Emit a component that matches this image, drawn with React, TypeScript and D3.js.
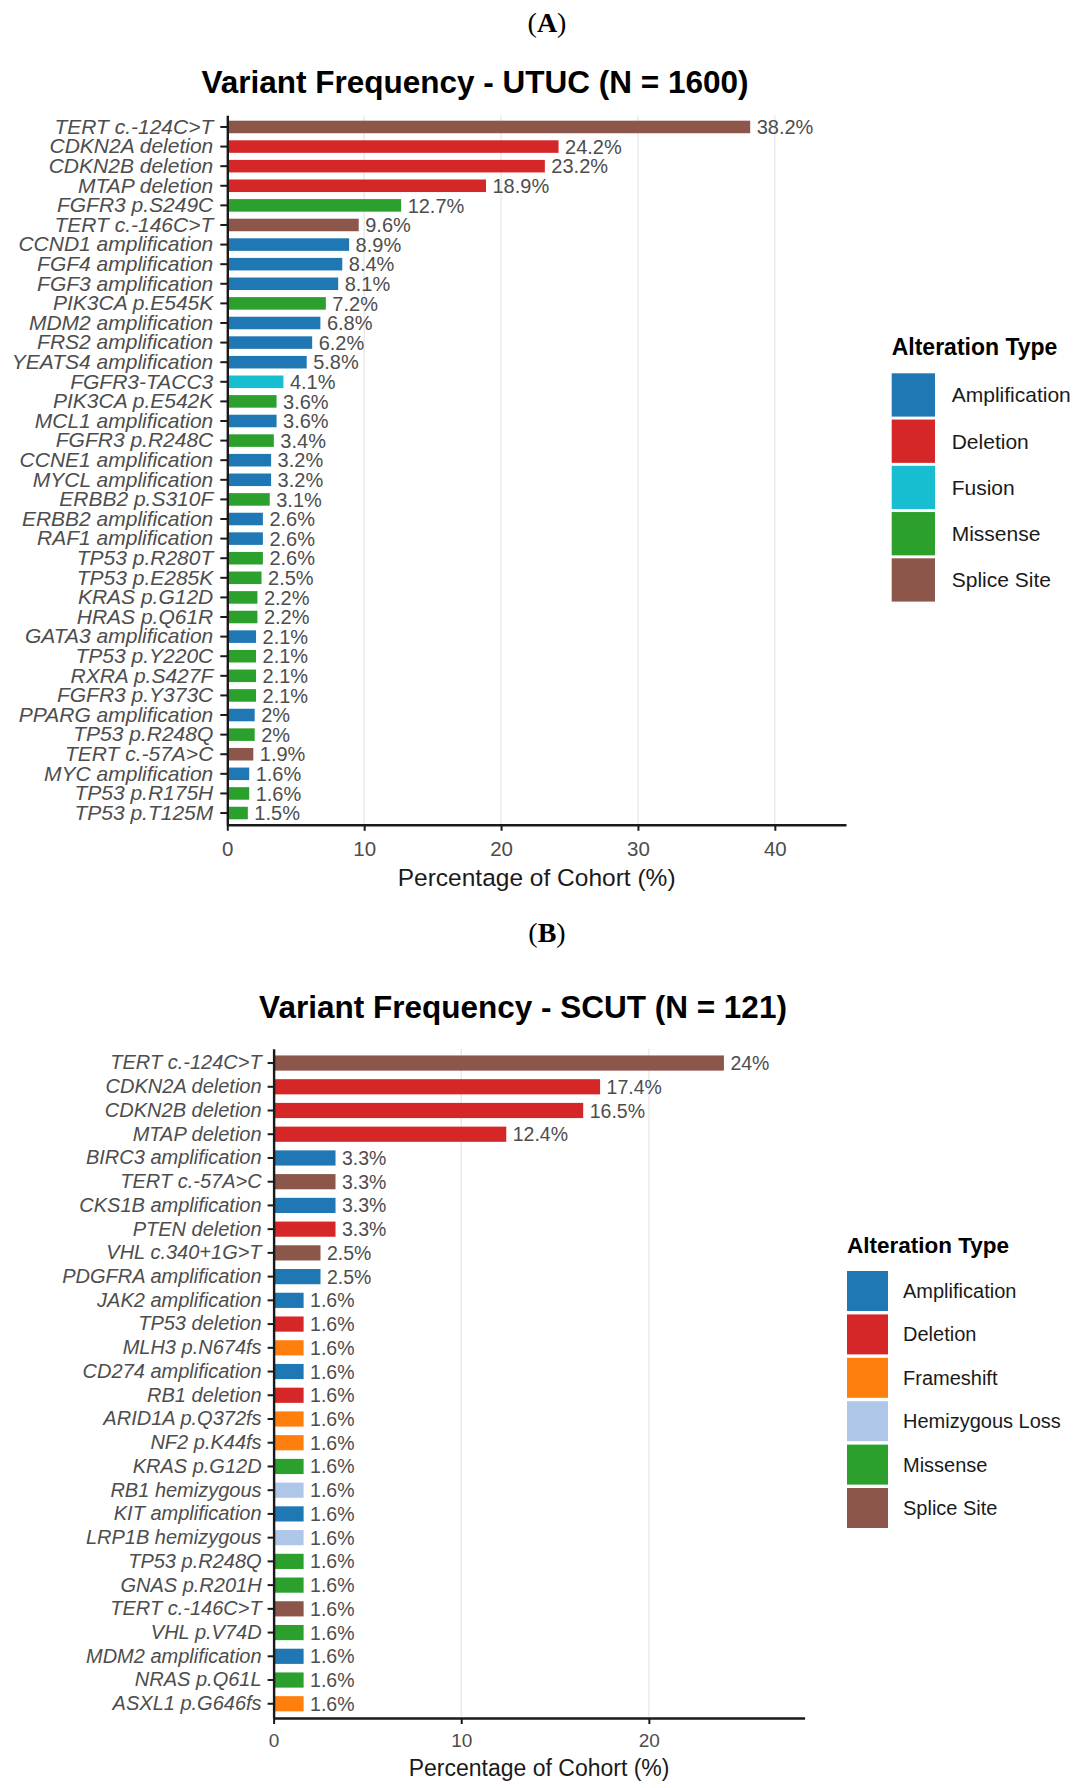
import { useEffect, useRef } from "react";
import * as d3 from "d3";

// Panel A - UTUC cohort
const utucGenes = [
  "TERT c.-124C>T", "CDKN2A deletion", "CDKN2B deletion", "MTAP deletion", "FGFR3 p.S249C",
  "TERT c.-146C>T", "CCND1 amplification", "FGF4 amplification", "FGF3 amplification", "PIK3CA p.E545K",
  "MDM2 amplification", "FRS2 amplification", "YEATS4 amplification", "FGFR3-TACC3", "PIK3CA p.E542K",
  "MCL1 amplification", "FGFR3 p.R248C", "CCNE1 amplification", "MYCL amplification", "ERBB2 p.S310F",
  "ERBB2 amplification", "RAF1 amplification", "TP53 p.R280T", "TP53 p.E285K", "KRAS p.G12D",
  "HRAS p.Q61R", "GATA3 amplification", "TP53 p.Y220C", "RXRA p.S427F", "FGFR3 p.Y373C",
  "PPARG amplification", "TP53 p.R248Q", "TERT c.-57A>C", "MYC amplification", "TP53 p.R175H",
  "TP53 p.T125M",
];
const utucPct = [
  38.2, 24.2, 23.2, 18.9, 12.7, 9.6, 8.9, 8.4, 8.1, 7.2, 6.8, 6.2, 5.8, 4.1, 3.6, 3.6, 3.4, 3.2,
  3.2, 3.1, 2.6, 2.6, 2.6, 2.5, 2.2, 2.2, 2.1, 2.1, 2.1, 2.1, 2, 2, 1.9, 1.6, 1.6, 1.5,
];
const utucType = [
  "Splice Site", "Deletion", "Deletion", "Deletion", "Missense", "Splice Site", "Amplification",
  "Amplification", "Amplification", "Missense", "Amplification", "Amplification", "Amplification",
  "Fusion", "Missense", "Amplification", "Missense", "Amplification", "Amplification", "Missense",
  "Amplification", "Amplification", "Missense", "Missense", "Missense", "Missense", "Amplification",
  "Missense", "Missense", "Missense", "Amplification", "Missense", "Splice Site", "Amplification",
  "Missense", "Missense",
];
const utucLegend = ["Amplification", "Deletion", "Fusion", "Missense", "Splice Site"];
const utucTicks = [0, 10, 20, 30, 40];

// Panel B - SCUT cohort
const scutGenes = [
  "TERT c.-124C>T", "CDKN2A deletion", "CDKN2B deletion", "MTAP deletion", "BIRC3 amplification",
  "TERT c.-57A>C", "CKS1B amplification", "PTEN deletion", "VHL c.340+1G>T", "PDGFRA amplification",
  "JAK2 amplification", "TP53 deletion", "MLH3 p.N674fs", "CD274 amplification", "RB1 deletion",
  "ARID1A p.Q372fs", "NF2 p.K44fs", "KRAS p.G12D", "RB1 hemizygous", "KIT amplification",
  "LRP1B hemizygous", "TP53 p.R248Q", "GNAS p.R201H", "TERT c.-146C>T", "VHL p.V74D",
  "MDM2 amplification", "NRAS p.Q61L", "ASXL1 p.G646fs",
];
const scutPct = [
  24, 17.4, 16.5, 12.4, 3.3, 3.3, 3.3, 3.3, 2.5, 2.5, 1.6, 1.6, 1.6, 1.6, 1.6, 1.6, 1.6, 1.6,
  1.6, 1.6, 1.6, 1.6, 1.6, 1.6, 1.6, 1.6, 1.6, 1.6,
];
const scutType = [
  "Splice Site", "Deletion", "Deletion", "Deletion", "Amplification", "Splice Site", "Amplification",
  "Deletion", "Splice Site", "Amplification", "Amplification", "Deletion", "Frameshift",
  "Amplification", "Deletion", "Frameshift", "Frameshift", "Missense", "Hemizygous Loss",
  "Amplification", "Hemizygous Loss", "Missense", "Missense", "Splice Site", "Missense",
  "Amplification", "Missense", "Frameshift",
];
const scutLegend = ["Amplification", "Deletion", "Frameshift", "Hemizygous Loss", "Missense", "Splice Site"];
const scutTicks = [0, 10, 20];

const alterationTypes = ["Amplification", "Deletion", "Fusion", "Frameshift", "Hemizygous Loss", "Missense", "Splice Site"];
const alterationColors = ["#1f77b4", "#d62728", "#17becf", "#ff7f0e", "#aec7e8", "#2ca02c", "#8c564b"];

const SANS = "'Liberation Sans', Arial, Helvetica, sans-serif";
const SERIF = "'Liberation Serif', 'Times New Roman', serif";

type Panel = {
  tag: string; tagY: number;
  title: string; titleX: number; titleY: number;
  genes: string[]; pct: number[]; types: string[]; legend: string[]; ticks: number[];
  left: number; right: number; top: number; bottom: number; xMax: number;
  yFont: number; yTick: number; yPad: number;
  valFont: number; tickFont: number; xPad: number;
  axisTitleFont: number; axisTitleY: number;
  legX: number; legTitleY: number; legTitleFont: number;
  keyTop: number; keySize: number; keyH: number; keyStep: number; legLabelX: number; legFont: number;
};

const panels: Panel[] = [
  {
    tag: "A", tagY: 32,
    title: "Variant Frequency - UTUC (N = 1600)", titleX: 475, titleY: 93,
    genes: utucGenes, pct: utucPct, types: utucType, legend: utucLegend, ticks: utucTicks,
    left: 227.3, right: 846, top: 115.2, bottom: 824.8, xMax: 45.2,
    yFont: 21, yTick: 7, yPad: 7, valFont: 20, tickFont: 20.5, xPad: 11,
    axisTitleFont: 24.5, axisTitleY: 886,
    legX: 891.7, legTitleY: 355, legTitleFont: 23,
    keyTop: 373.3, keySize: 43.3, keyH: 43.3, keyStep: 46.25, legLabelX: 951.7, legFont: 21,
  },
  {
    tag: "B", tagY: 942,
    title: "Variant Frequency - SCUT (N = 121)", titleX: 523, titleY: 1018,
    genes: scutGenes, pct: scutPct, types: scutType, legend: scutLegend, ticks: scutTicks,
    left: 273.6, right: 804.6, top: 1048.8, bottom: 1718, xMax: 28.3,
    yFont: 20, yTick: 6, yPad: 6, valFont: 19.5, tickFont: 19, xPad: 10,
    axisTitleFont: 23, axisTitleY: 1776,
    legX: 847, legTitleY: 1253, legTitleFont: 22.5,
    keyTop: 1271, keySize: 41, keyH: 40, keyStep: 43.4, legLabelX: 903, legFont: 20,
  },
];

const App: React.FC = () => {
  const svgRef = useRef<SVGSVGElement | null>(null);

  useEffect(() => {
    document.body.style.margin = "0";
    if (!svgRef.current) return;
    const svg = d3.select(svgRef.current);
    svg.selectAll("*").remove();

    const color = d3.scaleOrdinal<string, string>().domain(alterationTypes).range(alterationColors);

    panels.forEach(p => {
      const g = svg.append("g");
      const rows = p.genes.map((gene, i) => ({ gene, pct: p.pct[i], type: p.types[i] }));

      const x = d3.scaleLinear().domain([0, p.xMax]).range([p.left, p.right]);
      const y = d3.scaleBand().domain(p.genes).range([p.top, p.bottom]).paddingInner(0).paddingOuter(0.1);
      const barH = y.step() * 0.64;

      // panel tag, e.g. (A)
      const tag = g.append("text")
        .attr("x", 547).attr("y", p.tagY)
        .attr("text-anchor", "middle")
        .style("font-family", SERIF).style("font-size", "28px").style("fill", "#000");
      tag.append("tspan").text("(");
      tag.append("tspan").style("font-weight", "bold").text(p.tag);
      tag.append("tspan").text(")");

      // title
      g.append("text")
        .attr("x", p.titleX).attr("y", p.titleY)
        .attr("text-anchor", "middle")
        .style("font-family", SANS).style("font-size", "31.5px").style("font-weight", "bold")
        .style("fill", "#000")
        .text(p.title);

      // vertical grid lines
      g.selectAll(".grid")
        .data(p.ticks.filter(t => t > 0))
        .join("line")
        .attr("x1", d => x(d)).attr("x2", d => x(d))
        .attr("y1", p.top).attr("y2", p.bottom)
        .attr("stroke", "#e6e6e6").attr("stroke-width", 1.2);

      // bars
      g.selectAll(".bar")
        .data(rows)
        .join("rect")
        .attr("x", x(0))
        .attr("y", d => (y(d.gene) as number) + y.bandwidth() / 2 - barH / 2)
        .attr("width", d => x(d.pct) - x(0))
        .attr("height", barH)
        .attr("fill", d => color(d.type));

      // value labels
      g.selectAll(".val")
        .data(rows)
        .join("text")
        .attr("x", d => x(d.pct) + 6.5)
        .attr("y", d => (y(d.gene) as number) + y.bandwidth() / 2)
        .attr("dy", "0.36em")
        .style("font-family", SANS).style("font-size", `${p.valFont}px`).style("fill", "#4d4d4d")
        .text(d => `${d.pct}%`);

      // x axis
      const xAxis = g.append("g")
        .attr("transform", `translate(0,${p.bottom})`)
        .call(d3.axisBottom(x).tickValues(p.ticks).tickFormat(d3.format("d")).tickSize(6).tickSizeOuter(0).tickPadding(p.xPad));
      xAxis.select(".domain").attr("stroke", "#1a1a1a").attr("stroke-width", 2.4);
      xAxis.selectAll(".tick line").attr("stroke", "#1a1a1a").attr("stroke-width", 2);
      xAxis.selectAll(".tick text")
        .style("font-family", SANS).style("font-size", `${p.tickFont}px`).style("fill", "#4d4d4d");

      // y axis
      const yAxis = g.append("g")
        .attr("transform", `translate(${x(0)},0)`)
        .call(d3.axisLeft(y).tickSize(p.yTick).tickSizeOuter(0).tickPadding(p.yPad));
      yAxis.select(".domain").attr("stroke", "#1a1a1a").attr("stroke-width", 2.4);
      yAxis.selectAll(".tick line").attr("stroke", "#1a1a1a").attr("stroke-width", 2);
      yAxis.selectAll(".tick text")
        .style("font-family", SANS).style("font-size", `${p.yFont}px`).style("font-style", "italic")
        .style("fill", "#4d4d4d");

      // x axis title
      g.append("text")
        .attr("x", (p.left + p.right) / 2).attr("y", p.axisTitleY)
        .attr("text-anchor", "middle")
        .style("font-family", SANS).style("font-size", `${p.axisTitleFont}px`).style("fill", "#1a1a1a")
        .text("Percentage of Cohort (%)");

      // legend
      g.append("text")
        .attr("x", p.legX).attr("y", p.legTitleY)
        .style("font-family", SANS).style("font-size", `${p.legTitleFont}px`).style("font-weight", "bold")
        .style("fill", "#000")
        .text("Alteration Type");

      const keys = g.selectAll(".key")
        .data(p.legend)
        .join("g")
        .attr("transform", (_, i) => `translate(${p.legX},${p.keyTop + i * p.keyStep})`);
      keys.append("rect")
        .attr("width", p.keySize).attr("height", p.keyH)
        .attr("fill", d => color(d));
      keys.append("text")
        .attr("x", p.legLabelX - p.legX).attr("y", p.keyH / 2)
        .attr("dy", "0.35em")
        .style("font-family", SANS).style("font-size", `${p.legFont}px`).style("fill", "#1a1a1a")
        .text(d => d);
    });
  }, []);

  return (
    <svg ref={svgRef} width={1080} height={1788} viewBox="0 0 1080 1788"
      style={{ display: "block", background: "#fff" }} />
  );
};

export default App;
